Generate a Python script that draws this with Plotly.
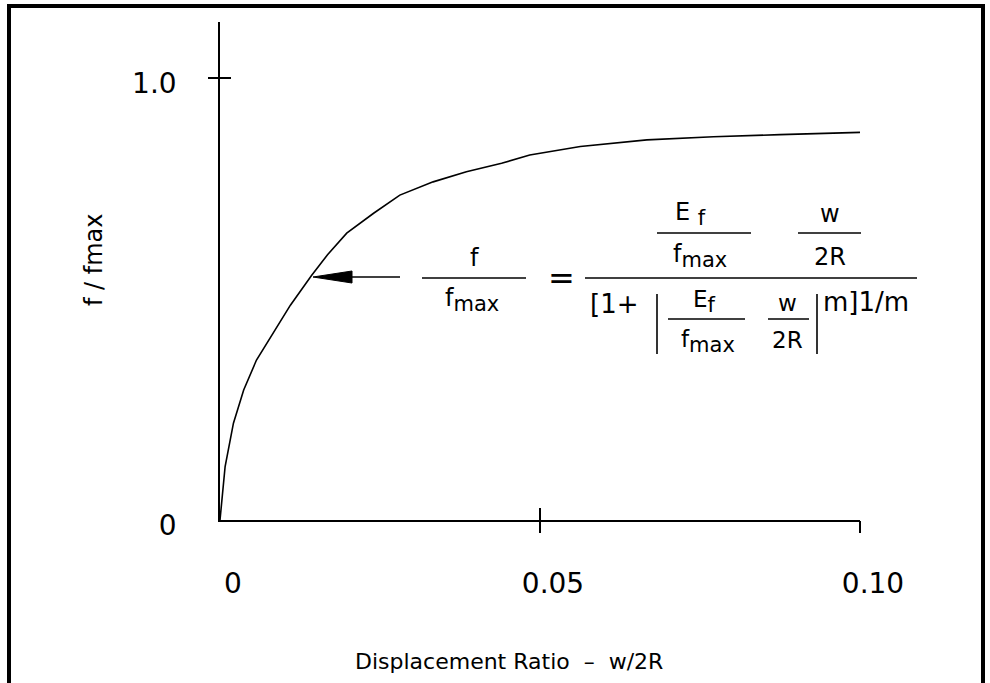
import plotly.graph_objects as go

# ---------------- data ----------------
ratio = [0, 0.0008, 0.0021, 0.0037, 0.0057, 0.0078, 0.0110, 0.0143, 0.0168,
         0.0198, 0.0240, 0.0281, 0.0333, 0.0385, 0.0440, 0.0484, 0.0563,
         0.0667, 0.0771, 0.0875, 0.1000]
f_ratio = [0, 0.121, 0.219, 0.294, 0.362, 0.411, 0.486, 0.553, 0.600,
           0.649, 0.694, 0.735, 0.765, 0.788, 0.807, 0.826, 0.845,
           0.860, 0.867, 0.872, 0.877]

x_tickvals = [0, 0.05, 0.10]
x_ticktext = ["0", "0.05", "0.10"]
x_marks = [0.05, 0.10]
y_tickvals = [0, 1.0]
y_ticktext = ["0", "1.0"]
y_marks = [1.0]

x_title = "Displacement Ratio  –  w/2R"
y_title = "f / fmax"

# ---------------- geometry ----------------
W, H = 990, 683
L, R, T, B = 220, 130, 22, 163
PW, PH = W - L - R, H - T - B
XR = [0, 0.10]
YR = [0, PH / 442.0]

def px(xp):
    return (xp - L) / PW

def py(yp):
    return (H - B - yp) / PH

FONT = "DejaVu Sans"
INK = "black"

fig = go.Figure()
fig.add_trace(go.Scatter(x=ratio, y=f_ratio, mode="lines",
                         line=dict(color=INK, width=1.6),
                         showlegend=False, hoverinfo="skip"))
# helper trace for the overlay axes (outer halves of tick marks)
fig.add_trace(go.Scatter(x=[None], y=[None], xaxis="x2", yaxis="y2",
                         showlegend=False, hoverinfo="skip"))

axis_common = dict(showgrid=False, zeroline=False, fixedrange=True)

fig.update_layout(
    width=W, height=H,
    margin=dict(l=L, r=R, t=T, b=B, autoexpand=False),
    paper_bgcolor="white", plot_bgcolor="white",
    showlegend=False,
    font=dict(family=FONT, color=INK),
    xaxis=dict(range=XR, tickvals=x_tickvals, ticktext=x_ticktext,
               ticks="inside", ticklen=12, tickwidth=1.5, tickcolor=INK,
               showline=True, linecolor=INK, linewidth=1.6,
               tickfont=dict(size=28, family=FONT, color=INK),
               ticklabelstandoff=38, ticklabelshift=13, **axis_common),
    yaxis=dict(range=YR, tickvals=y_tickvals, ticktext=y_ticktext,
               ticks="inside", ticklen=11, tickwidth=1.5, tickcolor=INK,
               showline=True, linecolor=INK, linewidth=1.6,
               tickfont=dict(size=28, family=FONT, color=INK),
               ticklabelstandoff=36, ticklabelshift=5, **axis_common),
    xaxis2=dict(range=XR, overlaying="x", anchor="y2", side="bottom",
                tickvals=x_marks, showticklabels=False,
                ticks="outside", ticklen=12, tickwidth=1.5, tickcolor=INK,
                showline=False, **axis_common),
    yaxis2=dict(range=YR, overlaying="y", anchor="x2", side="left",
                tickvals=y_marks, showticklabels=False,
                ticks="outside", ticklen=11, tickwidth=1.5, tickcolor=INK,
                showline=False, **axis_common),
)

annotations = []

def txt(text, xp, yp, size=24, xanchor="center", angle=0):
    annotations.append(dict(text=text, x=px(xp), y=py(yp), xref="paper", yref="paper",
                            xanchor=xanchor, yanchor="middle", showarrow=False,
                            textangle=angle,
                            font=dict(family=FONT, size=size, color=INK)))

# axis titles
txt(x_title, 509, 661, size=22)
txt(y_title, 94, 260, size=24, angle=-90)

FMAX = "f<sub><span style='font-size:21px'>max</span></sub>"
EF = "E <sub><span style='font-size:21px'>f</span></sub>"
EF2 = "E<sub><span style='font-size:21px'>f</span></sub>"

# left-hand side  f / fmax
txt("f", 474, 258)
txt(FMAX, 472, 300)
txt("=", 561, 278, size=32)
# numerator
txt(EF, 690, 214)
txt(FMAX, 700, 256)
txt("w", 830, 214)
txt("2R", 830, 257)
# denominator
txt("[1+", 614, 304, size=26)
txt(EF2, 704, 301, size=23)
txt(FMAX, 708, 341, size=23)
txt("w", 787, 303, size=23)
txt("2R", 787, 340, size=23)
txt("m]1/m", 821, 302, size=26, xanchor="left")

fig.update_layout(annotations=annotations)

shapes = []

def hline(x0, x1, y, w=1.4):
    shapes.append(dict(type="line", xref="paper", yref="paper",
                       x0=px(x0), x1=px(x1), y0=py(y), y1=py(y),
                       line=dict(color=INK, width=w)))

def vline(x, y0, y1, w=1.6):
    shapes.append(dict(type="line", xref="paper", yref="paper",
                       x0=px(x), x1=px(x), y0=py(y0), y1=py(y1),
                       line=dict(color=INK, width=w)))

# fraction bars
hline(422, 526, 278)
hline(585, 917, 278)
hline(657, 751, 233)
hline(798, 861, 233)
hline(668, 745, 319)
hline(768, 809, 319)
# absolute value bars
vline(657, 294, 354)
vline(817, 294, 354)

# arrow pointing at the curve
hline(350, 400, 277, w=1.4)
shapes.append(dict(type="path", xref="paper", yref="paper",
                   path=f"M {px(313)},{py(277)} L {px(352)},{py(271)} L {px(352)},{py(283)} Z",
                   fillcolor=INK, line=dict(color=INK, width=1)))

# outer frame (left, top, right)
shapes.append(dict(type="path", xref="paper", yref="paper",
                   path=f"M {px(9)},{py(700)} L {px(9)},{py(6)} L {px(983)},{py(6)} L {px(983)},{py(700)}",
                   line=dict(color=INK, width=4)))

fig.update_layout(shapes=shapes)

fig.write_html("out.html",
               config={"displayModeBar": False},
               post_script="document.body.style.margin='0px';document.body.style.overflow='hidden';")
